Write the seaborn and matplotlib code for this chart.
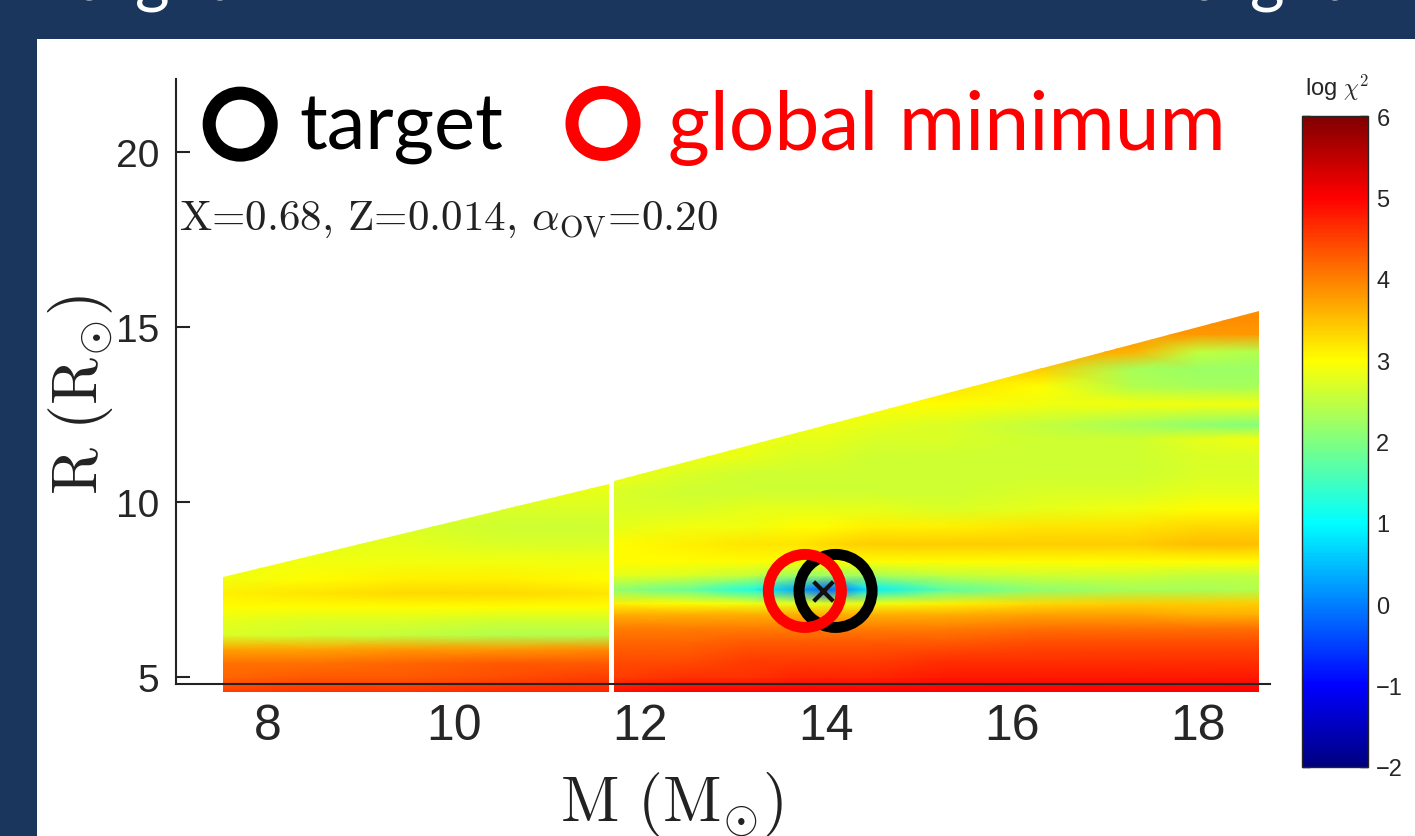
import numpy as np
import pandas as pd
import seaborn as sns
import matplotlib.pyplot as plt
from matplotlib.colors import LinearSegmentedColormap
from matplotlib.patches import Polygon, Rectangle

left_m = [7.52, 8.5, 9.5, 10.5, 11.66]
left_r = [4.57, 5.0, 5.4, 5.8, 6.2, 6.6, 7.0, 7.4, 7.8, 8.3, 8.8, 9.3, 9.8, 10.3, 10.8]
left_chi = [
    [4.5, 4.6, 4.6, 4.7, 4.7],
    [4.2, 4.3, 4.3, 4.4, 4.5],
    [4.1, 4.1, 4.2, 4.3, 4.3],
    [3.7, 3.7, 3.8, 3.8, 3.9],
    [2.7, 2.6, 2.5, 2.4, 2.4],
    [2.8, 2.7, 2.7, 2.6, 2.6],
    [3.0, 3.0, 3.0, 3.0, 3.0],
    [3.1, 3.2, 3.3, 3.3, 3.2],
    [2.9, 3.0, 3.1, 3.1, 3.0],
    [2.9, 2.9, 2.9, 2.9, 2.9],
    [2.8, 2.8, 2.8, 2.7, 2.7],
    [2.8, 2.8, 2.7, 2.6, 2.6],
    [2.8, 2.8, 2.8, 2.7, 2.7],
    [2.9, 2.9, 2.9, 2.9, 2.8],
    [3.0, 3.0, 3.0, 3.0, 3.0],
]
left_top = [7.86, 10.51]      # upper edge of the grid at first / last M

right_m = [11.72, 12.5, 13.2, 13.7, 14.0, 14.5, 15.3, 16.3, 17.3, 18.0, 18.65]
right_r = [4.57, 5.0, 5.5, 6.0, 6.4, 6.8, 7.1, 7.5, 7.9, 8.3, 8.8, 9.3, 9.8,
           10.3, 10.8, 11.3, 11.8, 12.2, 12.8, 13.3, 13.8, 14.3, 14.8, 15.2, 15.6]
right_chi = [
    [4.9, 5.0, 5.0, 5.0, 5.0, 5.0, 5.0, 5.0, 5.0, 5.0, 5.0],
    [4.5, 4.6, 4.6, 4.7, 4.7, 4.7, 4.8, 4.8, 4.8, 4.8, 4.8],
    [4.4, 4.4, 4.5, 4.5, 4.5, 4.5, 4.6, 4.6, 4.6, 4.6, 4.6],
    [4.2, 4.2, 4.3, 4.3, 4.3, 4.3, 4.3, 4.4, 4.4, 4.4, 4.4],
    [4.0, 4.0, 4.0, 4.0, 4.0, 4.0, 4.0, 4.1, 4.1, 4.1, 4.1],
    [3.6, 3.6, 3.6, 3.6, 3.6, 3.6, 3.6, 3.7, 3.7, 3.6, 3.6],
    [3.1, 3.0, 2.9, 2.8, 2.8, 2.9, 3.1, 3.3, 3.4, 3.4, 3.4],
    [2.1, 1.8, 1.2, 0.3, -0.3, 0.9, 1.7, 2.1, 2.3, 2.3, 2.4],
    [2.8, 2.7, 2.5, 2.2, 2.2, 2.3, 2.5, 2.6, 2.6, 2.5, 2.5],
    [3.0, 3.0, 3.0, 3.0, 3.0, 3.0, 3.0, 3.0, 3.0, 3.0, 3.0],
    [3.0, 3.1, 3.2, 3.2, 3.3, 3.4, 3.4, 3.4, 3.4, 3.5, 3.5],
    [2.8, 2.9, 2.9, 3.0, 3.0, 3.1, 3.1, 3.2, 3.2, 3.3, 3.3],
    [2.7, 2.7, 2.8, 2.8, 2.8, 2.8, 2.7, 2.8, 2.9, 3.0, 3.0],
    [2.7, 2.6, 2.6, 2.6, 2.6, 2.6, 2.6, 2.7, 2.7, 2.8, 2.8],
    [2.9, 2.7, 2.6, 2.6, 2.6, 2.6, 2.6, 2.6, 2.6, 2.7, 2.7],
    [3.0, 2.9, 2.8, 2.7, 2.7, 2.6, 2.6, 2.6, 2.6, 2.7, 2.7],
    [3.0, 3.0, 2.9, 2.8, 2.8, 2.7, 2.7, 2.6, 2.6, 2.8, 2.9],
    [3.0, 3.0, 3.0, 2.9, 2.9, 2.8, 2.7, 2.5, 2.3, 2.1, 2.0],
    [3.0, 3.0, 3.0, 3.0, 3.0, 3.0, 3.0, 2.9, 2.9, 2.9, 2.9],
    [3.1, 3.1, 3.1, 3.1, 3.1, 3.1, 3.2, 3.0, 2.4, 2.3, 2.3],
    [3.3, 3.3, 3.3, 3.3, 3.3, 3.3, 3.3, 3.4, 2.3, 2.2, 2.2],
    [3.6, 3.6, 3.6, 3.6, 3.6, 3.6, 3.6, 3.7, 3.6, 2.5, 2.4],
    [3.8, 3.8, 3.8, 3.8, 3.8, 3.8, 3.8, 3.8, 3.8, 3.8, 3.8],
    [3.9, 3.9, 3.9, 3.9, 3.9, 3.9, 3.9, 3.9, 3.9, 3.9, 3.9],
    [3.9, 3.9, 3.9, 3.9, 3.9, 3.9, 3.9, 3.9, 3.9, 3.9, 3.9],
]
right_top = [10.6, 15.46]
r_bottom = 4.57

# circles : target and global minimum
marks = pd.DataFrame({'M': [14.1, 13.77], 'R': [7.46, 7.46],
                      'kind': ['target', 'global minimum']})
best_m, best_r = [13.96], [7.46]
ring_colors = {'target': 'black', 'global minimum': 'red'}

x_ticks = [8, 10, 12, 14, 16, 18]
y_ticks = [5, 10, 15, 20]
cb_ticks = [-2, -1, 0, 1, 2, 3, 4, 5, 6]

# matlab style jet (cyan at 1, yellow at 3, red at 5)
jet = LinearSegmentedColormap.from_list('mjet', [
    (0.0, (0, 0, 0.5)), (0.125, (0, 0, 1)), (0.375, (0, 1, 1)),
    (0.625, (1, 1, 0)), (0.875, (1, 0, 0)), (1.0, (0.5, 0, 0))])

sns.set_style('white')
plt.rcParams['font.family'] = ['Liberation Sans Narrow', 'Liberation Sans', 'DejaVu Sans']
plt.rcParams['mathtext.fontset'] = 'cm'

W, H = 1415, 837
fig = plt.figure(figsize=(W / 100, H / 100), dpi=100)
fig.patch.set_facecolor('#1a365d')
fig.patches.append(Rectangle((37 / W, 0), 1, (H - 40) / H, transform=fig.transFigure,
                             facecolor='white', edgecolor='none', zorder=-1))

# cut-off slide titles
for x0 in [38, 1153]:
    fig.text(x0 / W, 1 + 1 / H, 'Target', color='white', fontsize=48,
             family=['Lato', 'DejaVu Sans'], va='baseline', ha='left')

ax = fig.add_axes([176 / W, (H - 685) / H, (1270 - 176) / W, (685 - 80) / H])
ax.set_facecolor('none')

mesh = None
for m, r, chi, top in [(left_m, left_r, left_chi, left_top),
                       (right_m, right_r, right_chi, right_top)]:
    mm, rr = np.meshgrid(m, r)
    mesh = ax.pcolormesh(mm, rr, np.array(chi), cmap=jet, vmin=-2, vmax=6,
                         shading='gouraud', zorder=1)
    poly = Polygon([(m[0], r_bottom), (m[-1], r_bottom), (m[-1], top[1]), (m[0], top[0])],
                   closed=True, transform=ax.transData)
    mesh.set_clip_path(poly)
    mesh.set_clip_box(None)

sns.scatterplot(x=best_m, y=best_r, marker='x', s=200, color='#111111', linewidth=3,
                ax=ax, zorder=4)
for kind, col in ring_colors.items():
    sub = marks[marks['kind'] == kind]
    sns.scatterplot(data=sub, x='M', y='R', s=2765, marker='o', facecolors='none',
                    edgecolor=col, linewidth=7.9, ax=ax, zorder=5)

# legend drawn on the slide
sns.scatterplot(x=[7.70], y=[20.8], s=1990, marker='o', facecolors='none',
                edgecolor='black', linewidth=9.4, ax=ax, zorder=5)
sns.scatterplot(x=[11.60], y=[20.82], s=1990, marker='o', facecolors='none',
                edgecolor='red', linewidth=9.4, ax=ax, zorder=5)
ax.text(8.34, 20.14, 'target', color='black', fontsize=56, family=['Lato', 'DejaVu Sans'],
        va='baseline', ha='left')
ax.text(12.30, 20.09, 'global minimum', color='red', fontsize=58,
        family=['Lato', 'DejaVu Sans'], va='baseline', ha='left')

ax.text(7.04, 18.09, r'X=0.68, Z=0.014, $\alpha_{\mathrm{OV}}$=0.20', family='cmr10',
        fontsize=31, va='center', ha='left', color='#222222')

ax.set_xlim(7.01, 18.77)
ax.set_ylim(4.8, 22.09)
ax.set_xticks(x_ticks)
ax.set_yticks(y_ticks)
for s in ['top', 'right']:
    ax.spines[s].set_visible(False)
for s in ['left', 'bottom']:
    ax.spines[s].set_linewidth(1.5)
    ax.spines[s].set_color('#222222')
    ax.spines[s].set_zorder(3)
ax.tick_params(axis='both', direction='in', length=10, width=1.5, color='#222222',
               left=True, bottom=True)
ax.tick_params(axis='x', labelsize=36, pad=14)
ax.tick_params(axis='y', labelsize=28, pad=12)

ax.set_xlabel(r'$\mathrm{M\ (M_{\odot})}$', fontsize=46, color='#222222')
ax.set_ylabel(r'$\mathrm{R\ (R_{\odot})}$', fontsize=46, color='#222222')
ax.xaxis.set_label_coords(0.453, -0.14)
ax.yaxis.set_label_coords(-0.056, 0.479)

cax = fig.add_axes([1302 / W, (H - 768) / H, 66 / W, 651 / H])
cb = fig.colorbar(mesh, cax=cax)
cb.set_ticks(cb_ticks)
cb.outline.set_linewidth(1)
cax.tick_params(direction='in', length=6, width=1, labelsize=17, left=True, right=True,
                pad=6)
for lab in cax.get_yticklabels():
    lab.set_family(['Liberation Sans', 'DejaVu Sans'])
fig.text(1337 / W, 1 - 88 / H, r'log $\chi^2$', fontsize=17, ha='center', va='center',
         family=['Liberation Sans', 'DejaVu Sans'])

fig.savefig('out.png', dpi=100, facecolor=fig.get_facecolor())
